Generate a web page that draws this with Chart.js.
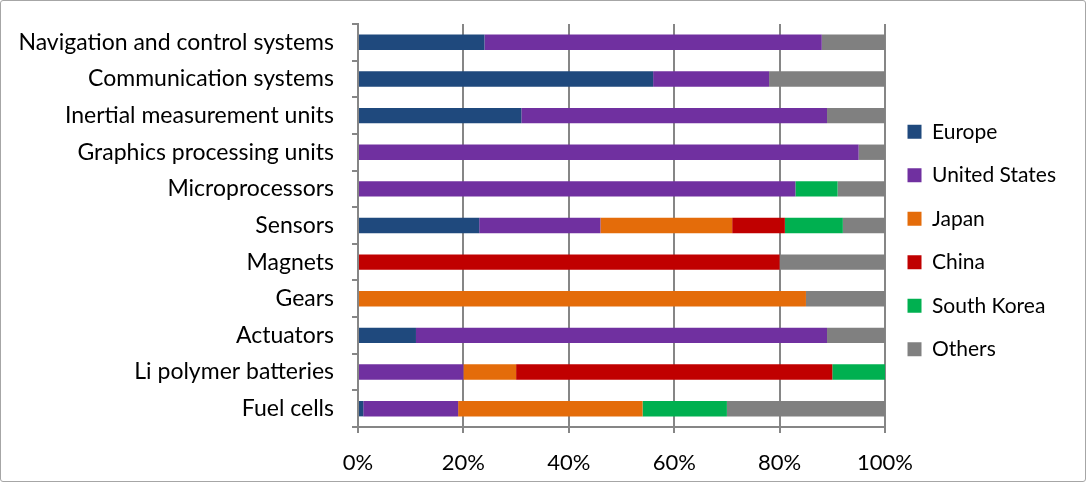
<!DOCTYPE html>
<html>
<head>
<meta charset="utf-8">
<script src="https://cdn.jsdelivr.net/npm/chart.js@4"></script>
<style>
  html, body { margin: 0; padding: 0; background: #fff; }
  #wrap { position: relative; width: 1084px; height: 480px; border: 1px solid #a6a6a6; border-radius: 3px; }
</style>
</head>
<body>
<div id="wrap"><canvas id="myChart" width="1084" height="480"></canvas></div>
<script>
// Categories (top to bottom)
const categories = [
  'Navigation and control systems',
  'Communication systems',
  'Inertial measurement units',
  'Graphics processing units',
  'Microprocessors',
  'Sensors',
  'Magnets',
  'Gears',
  'Actuators',
  'Li polymer batteries',
  'Fuel cells'
];

// Share by region, in %
const europe       = [24, 56, 31, 0,  0,  23, 0,  0,  11, 0,  1];
const unitedStates = [64, 22, 58, 95, 83, 23, 0,  0,  78, 20, 18];
const japan        = [0,  0,  0,  0,  0,  25, 0,  85, 0,  10, 35];
const china        = [0,  0,  0,  0,  0,  10, 80, 0,  0,  60, 0];
const southKorea   = [0,  0,  0,  0,  8,  11, 0,  0,  0,  10, 16];
const others       = [12, 22, 11, 5,  9,  8,  20, 15, 11, 0,  30];

const xTicks = ['0%', '20%', '40%', '60%', '80%', '100%'];

const seriesNames = ['Europe', 'United States', 'Japan', 'China', 'South Korea', 'Others'];
const seriesData = [europe, unitedStates, japan, china, southKorea, others];
const seriesColors = ['#1F497D', '#7030A0', '#E46C0A', '#C00000', '#00B050', '#808080'];

Chart.defaults.font.family = "Lato, sans-serif";
Chart.defaults.font.size = 22;
Chart.defaults.color = '#000';

// nudge the legend up a bit, it sits a little above centre in the original
const legendShift = {
  id: 'legendShift',
  afterLayout(chart) {
    chart.legend.top -= 12;
    chart.legend.bottom -= 12;
  }
};

var ctx = document.getElementById('myChart').getContext('2d');

var myChart = new Chart(ctx, {
  type: 'bar',
  data: {
    labels: categories,
    datasets: seriesNames.map((name, i) => ({
      label: name,
      data: seriesData[i],
      backgroundColor: seriesColors[i],
      borderWidth: 0,
      barPercentage: 1,
      categoryPercentage: 0.42
    }))
  },
  options: {
    indexAxis: 'y',
    responsive: false,
    animation: false,
    layout: { padding: { top: 23, right: 19, bottom: 0, left: 0 } },
    plugins: {
      legend: {
        position: 'right',
        labels: {
          boxWidth: 14,
          boxHeight: 14,
          padding: 22.5,
          font: { size: 21 }
        }
      },
      tooltip: { enabled: false }
    },
    scales: {
      x: {
        stacked: true,
        min: 0,
        max: 100,
        afterFit: (scale) => {
          scale.height = 54;
          scale.paddingBottom = 0;
        },
        ticks: {
          stepSize: 20,
          padding: 17,
          callback: (v) => xTicks[v / 20]
        },
        grid: { color: '#868686', lineWidth: 2, tickLength: 6 },
        border: { color: '#868686', width: 2 }
      },
      y: {
        stacked: true,
        afterFit: (scale) => {
          scale.width = 357;
          scale.paddingTop = 0;
          scale.paddingBottom = 0;
        },
        ticks: { padding: 18, font: { size: 23 } },
        grid: { drawOnChartArea: false, color: '#868686', lineWidth: 2, tickLength: 6, offset: true },
        border: { color: '#868686', width: 2 }
      }
    }
  },
  plugins: [legendShift]
});
</script>
</body>
</html>
